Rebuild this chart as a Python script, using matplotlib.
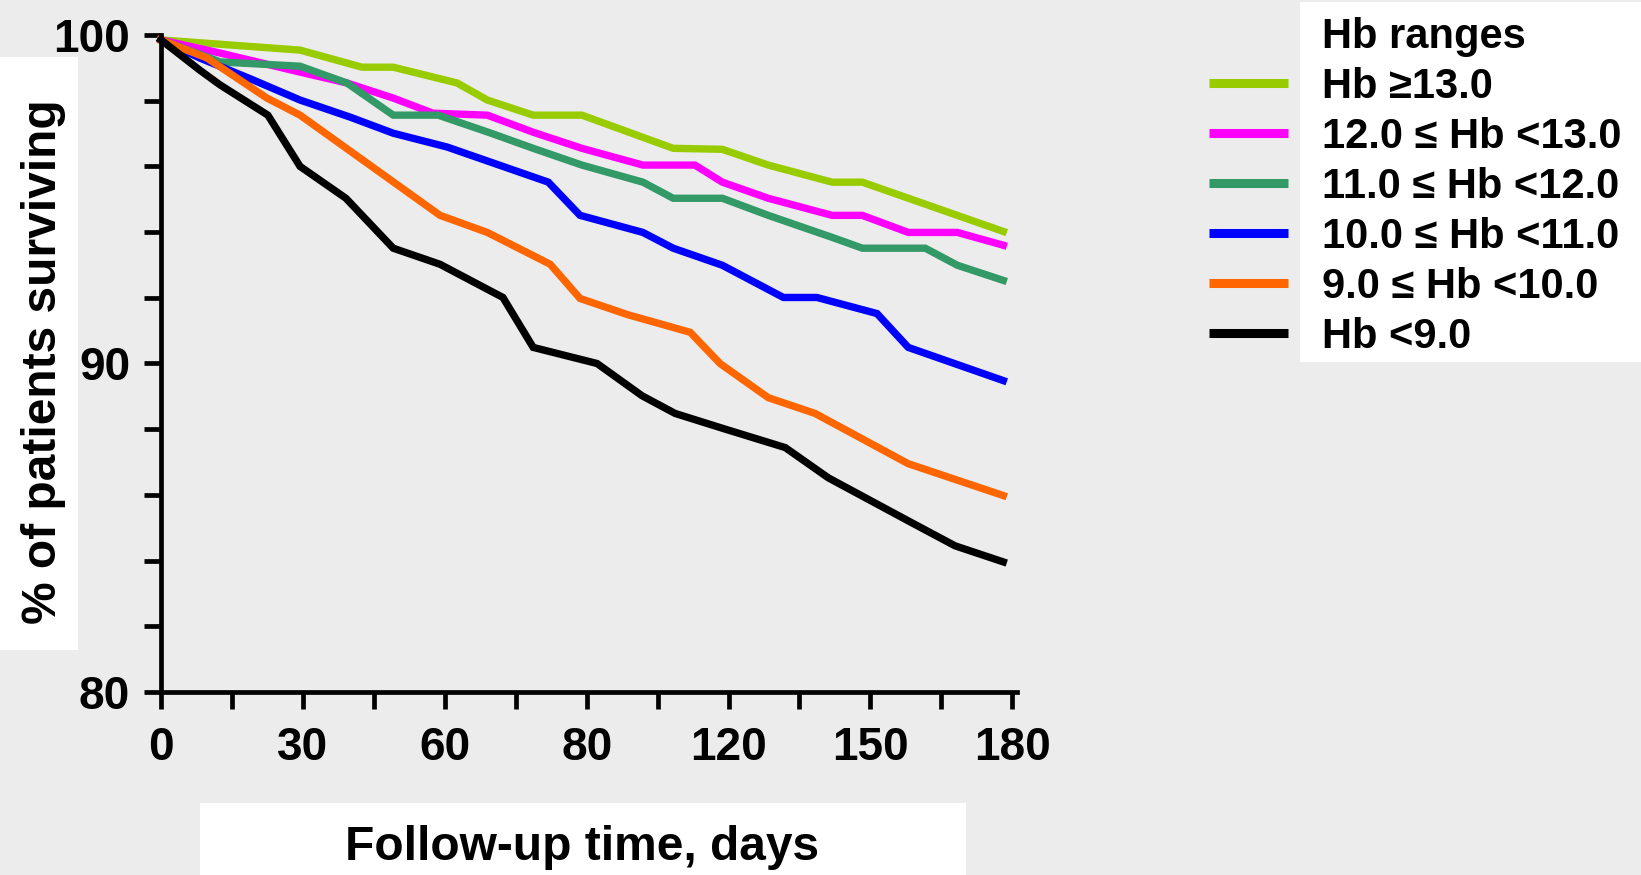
import matplotlib
matplotlib.use("Agg")
import matplotlib.pyplot as plt
from matplotlib.patches import Rectangle
from matplotlib.lines import Line2D
from matplotlib.ticker import MultipleLocator

plt.rcParams['font.family'] = ['Liberation Sans', 'DejaVu Sans']
plt.rcParams['font.weight'] = 'bold'

# survival curves (days, % surviving)
days_13 = [0, 29.4, 42.5, 49.1, 62.6, 69.0, 78.7, 89.0, 108.3, 118.7, 128.4, 141.9, 148.3, 178.1]
surv_13 = [99.85, 99.54, 99.02, 99.02, 98.54, 98.02, 97.56, 97.56, 96.55, 96.52, 96.04, 95.52, 95.52, 94.02]

days_12 = [0, 12.5, 29.4, 39.3, 49.1, 57.5, 69.0, 78.7, 89.0, 101.9, 112.9, 118.7, 128.4, 141.9, 148.3, 158.0, 168.4, 178.1]
surv_12 = [99.85, 99.45, 98.87, 98.54, 98.08, 97.62, 97.56, 97.04, 96.55, 96.04, 96.04, 95.52, 95.03, 94.51, 94.51, 93.99, 93.99, 93.6]

days_11 = [0, 12.5, 29.4, 39.3, 49.1, 58.6, 69.2, 78.7, 89.0, 101.9, 108.3, 118.7, 128.4, 141.9, 148.3, 161.6, 168.4, 178.1]
surv_11 = [99.85, 99.18, 99.05, 98.54, 97.56, 97.56, 97.04, 96.55, 96.04, 95.52, 95.03, 95.03, 94.51, 93.84, 93.51, 93.51, 92.99, 92.53]

days_10 = [0, 8.2, 19.5, 29.4, 40.0, 49.1, 60.5, 81.9, 88.6, 101.9, 108.3, 118.7, 131.6, 138.7, 151.4, 158.0, 178.1]
surv_10 = [99.85, 99.3, 98.63, 98.02, 97.5, 97.01, 96.59, 95.52, 94.51, 93.99, 93.51, 92.99, 92.01, 92.01, 91.52, 90.49, 89.48]

days_9 = [0, 9.7, 22.4, 29.4, 59.0, 69.0, 82.3, 88.6, 98.6, 111.9, 118.2, 128.4, 138.3, 158.0, 178.1]
surv_9 = [99.85, 99.3, 98.08, 97.56, 94.51, 93.99, 93.02, 91.98, 91.49, 90.95, 90.0, 88.96, 88.48, 86.95, 85.98]

days_lt9 = [0, 8.2, 12.5, 22.6, 29.4, 39.1, 49.1, 59.0, 72.3, 78.7, 92.2, 101.7, 108.7, 118.9, 132.0, 141.1, 158.0, 167.9, 178.1]
surv_lt9 = [99.85, 98.93, 98.48, 97.56, 96.0, 95.03, 93.51, 93.02, 92.01, 90.49, 90.0, 89.02, 88.48, 88.02, 87.44, 86.52, 85.21, 84.45, 83.96]

labels = ['Hb \u226513.0', '12.0 \u2264 Hb <13.0', '11.0 \u2264 Hb <12.0',
          '10.0 \u2264 Hb <11.0', '9.0 \u2264 Hb <10.0', 'Hb <9.0']
colors = ['#99cc00', '#ff00ff', '#339966', '#0000ff', '#ff6600', '#000000']
series = [(days_13, surv_13), (days_12, surv_12), (days_11, surv_11),
          (days_10, surv_10), (days_9, surv_9), (days_lt9, surv_lt9)]

xtick_vals = [0, 30, 60, 90, 120, 150, 180]
xtick_labels = ['0', '30', '60', '80', '120', '150', '180']
ytick_vals = [80, 90, 100]

W, H = 1641, 875
bg = '#ececec'
fig = plt.figure(figsize=(W / 100, H / 100), dpi=100, facecolor=bg)
ax = fig.add_axes([161 / W, 1 - 692 / H, (1017 - 161) / W, (692 - 35) / H])
ax.set_facecolor(bg)

for (d, s), c in zip(series, colors):
    ax.plot(d, s, color=c, lw=5.3, solid_joinstyle='miter', clip_on=False, zorder=3)

ax.set_xlim(0, 181)
ax.set_ylim(80, 100)
for sp in ['top', 'right']:
    ax.spines[sp].set_visible(False)
for sp in ['left', 'bottom']:
    ax.spines[sp].set_linewidth(3.4)
    ax.spines[sp].set_zorder(4)

ax.set_xticks(xtick_vals)
ax.set_xticklabels(xtick_labels)
ax.xaxis.set_minor_locator(MultipleLocator(15))
ax.set_yticks(ytick_vals)
ax.yaxis.set_minor_locator(MultipleLocator(2))
ax.tick_params(which='both', length=12.2, width=3.4, color='black')
ax.tick_params(axis='y', which='major', labelsize=33, pad=10)
ax.tick_params(axis='x', which='major', labelsize=33, pad=12)
for lab in ax.get_xticklabels() + ax.get_yticklabels():
    lab.set_fontweight('bold')

# white boxes behind the axis titles and the legend
fig.patches.append(Rectangle((0, 1 - 650 / H), 78 / W, (650 - 57) / H,
                             transform=fig.transFigure, facecolor='white', edgecolor='none', zorder=0))
fig.patches.append(Rectangle((200 / W, 0), (966 - 200) / W, (875 - 803) / H,
                             transform=fig.transFigure, facecolor='white', edgecolor='none', zorder=0))
fig.patches.append(Rectangle((1300 / W, 1 - 362 / H), (W - 1300) / W, 360 / H,
                             transform=fig.transFigure, facecolor='white', edgecolor='none', zorder=0))

fig.text(44 / W, 1 - 362 / H, '% of patients surviving', rotation=90,
         ha='center', va='center', fontsize=34.5, fontweight='bold')
fig.text(582 / W, 1 - 860 / H, 'Follow-up time, days', ha='center', va='baseline',
         fontsize=34.5, fontweight='bold')

# legend
fig.text(1322 / W, 1 - 48 / H, 'Hb ranges', ha='left', va='baseline', fontsize=30, fontweight='bold')
for i, (lab, c) in enumerate(zip(labels, colors)):
    yc = 83 + 50 * i
    fig.add_artist(Line2D([1209 / W, 1288 / W], [1 - yc / H, 1 - yc / H], color=c, lw=6.5,
                          solid_capstyle='butt', transform=fig.transFigure))
    fig.text(1322 / W, 1 - (yc + 15) / H, lab, ha='left', va='baseline', fontsize=30,
             fontweight='bold')

fig.savefig('out.png', dpi=100, facecolor=bg)
